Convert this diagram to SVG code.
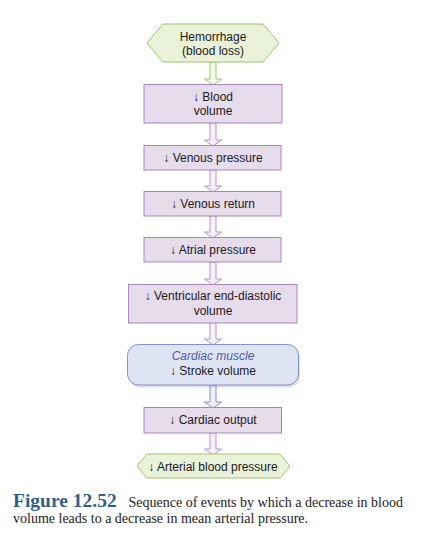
<svg xmlns="http://www.w3.org/2000/svg" width="426" height="544" viewBox="0 0 426 544">
<style>
.box{fill:#e7dcec;stroke:#a883bd;stroke-width:1}
.hex{fill:#ebf2da;stroke:#9cc46c;stroke-width:1}
.rbox{fill:#dfe4f4;stroke:#8092cc;stroke-width:1}
.t{font-family:"Liberation Sans",Arial,sans-serif;font-size:12px;fill:#1a1a1a;text-anchor:middle}
.it{font-style:italic;fill:#4a5ca8}
.ap{fill:#f6f0f8;stroke:#b395c6;stroke-width:1}
.ag{fill:#f4f9ec;stroke:#9cc46c;stroke-width:1}
.ab{fill:#eef1fa;stroke:#8092cc;stroke-width:1}
.cap{font-family:"Liberation Serif","Times New Roman",serif;font-size:14px;fill:#222}
.fig{font-weight:bold;font-size:19.5px;fill:#2f5f8c}
</style>
<rect width="426" height="544" fill="#fff"/>
<g id="connectors">
<path class="ag" d="M210,62 V79 H204.5 L213,85 L221.5,79 H216 V62 Z"/>
<path class="ap" d="M210,123 V140 H204.5 L213,146 L221.5,140 H216 V123 Z"/>
<path class="ap" d="M210,170 V186 H204.5 L213,192 L221.5,186 H216 V170 Z"/>
<path class="ap" d="M210,216 V232 H204.5 L213,238 L221.5,232 H216 V216 Z"/>
<path class="ap" d="M210,262 V279 H204.5 L213,285 L221.5,279 H216 V262 Z"/>
<path class="ap" d="M210,323 V339 H204.5 L213,345 L221.5,339 H216 V323 Z"/>
<path class="ab" d="M210,385 V402 H204.5 L213,408 L221.5,402 H216 V385 Z"/>
<path class="ap" d="M210,433 V449 H204.5 L213,455 L221.5,449 H216 V433 Z"/>
</g>
<g id="hemorrhage">
<polygon class="hex" points="147,43 163,24 263,24 279,43 263,62 163,62"/>
<text class="t" x="213" y="41">Hemorrhage</text>
<text class="t" x="213" y="55">(blood loss)</text>
</g>
<g id="blood-volume">
<rect class="box" x="144" y="84.5" width="138" height="38.5"/>
<text class="t" x="213" y="101">↓ Blood</text>
<text class="t" x="213" y="115">volume</text>
</g>
<g id="venous-pressure">
<rect class="box" x="144" y="145.5" width="137" height="24.5"/>
<text class="t" x="213" y="162">↓ Venous pressure</text>
</g>
<g id="venous-return">
<rect class="box" x="144" y="191.5" width="137" height="24.5"/>
<text class="t" x="213" y="208">↓ Venous return</text>
</g>
<g id="atrial-pressure">
<rect class="box" x="144" y="237.5" width="137" height="24.5"/>
<text class="t" x="213" y="254">↓ Atrial pressure</text>
</g>
<g id="ved-volume">
<rect class="box" x="128.5" y="284.5" width="168.5" height="38.5"/>
<text class="t" x="213" y="300">↓ Ventricular end-diastolic</text>
<text class="t" x="213" y="315">volume</text>
</g>
<g id="stroke-volume">
<rect x="129" y="346.5" width="171" height="41" rx="11" fill="#000" opacity="0.12"/>
<rect class="rbox" x="127.5" y="344.5" width="171" height="40.5" rx="11"/>
<text class="t it" x="213" y="360">Cardiac muscle</text>
<text class="t" x="213" y="375">↓ Stroke volume</text>
</g>
<g id="cardiac-output">
<rect class="box" x="144" y="407.5" width="137.5" height="25.5"/>
<text class="t" x="213" y="424">↓ Cardiac output</text>
</g>
<g id="arterial-pressure">
<polygon class="hex" points="137,466 147,454 280,454 290,466 280,478 147,478"/>
<text class="t" x="213" y="470.5">↓ Arterial blood pressure</text>
</g>
<g id="caption">
<text class="cap" x="13" y="507"><tspan class="fig">Figure 12.52</tspan><tspan x="125"> Sequence of events by which a decrease in blood</tspan></text>
<text class="cap" x="13" y="523">volume leads to a decrease in mean arterial pressure.</text>
</g>
</svg>
